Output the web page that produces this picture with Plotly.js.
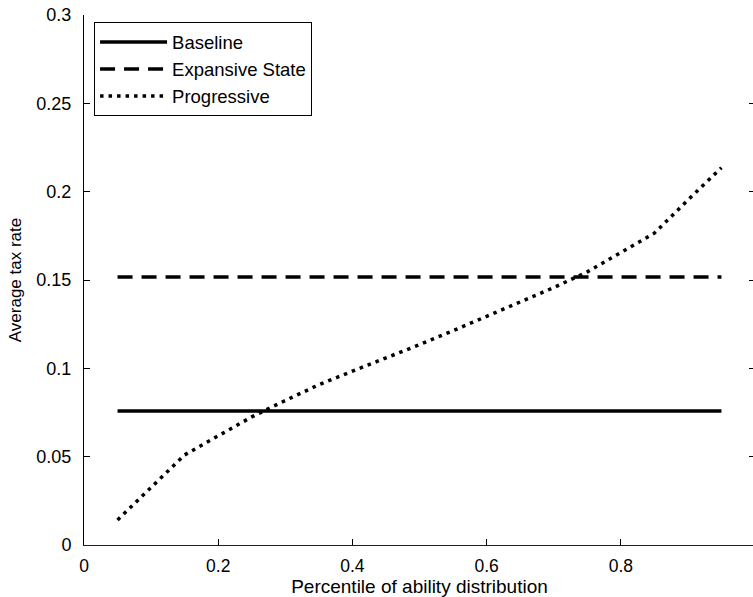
<!DOCTYPE html>
<html>
<head>
<meta charset="utf-8">
<script src="https://cdn.plot.ly/plotly-3.0.1.min.js"></script>
<style>
html, body { margin: 0; padding: 0; overflow: hidden; background: #fff; }
#chart { width: 756px; height: 597px; }
</style>
</head>
<body>
<div id="chart"></div>
<script>
// Data
const percentile = [0.05, 0.10, 0.15, 0.20, 0.25, 0.30, 0.35, 0.40, 0.45, 0.50,
                    0.55, 0.60, 0.65, 0.70, 0.75, 0.80, 0.85, 0.90, 0.95];
const progressive = [0.0142, 0.0325, 0.0510, 0.0618, 0.0725, 0.0818, 0.0907, 0.0984, 0.1058, 0.1134,
                     0.1213, 0.1293, 0.1375, 0.1457, 0.1546, 0.1653, 0.1765, 0.1953, 0.2136];
const baselineX = [0.05, 0.95];
const baselineY = [0.0758, 0.0758];
const expansiveX = [0.05, 0.95];
const expansiveY = [0.1517, 0.1517];
const seriesNames = ["Baseline", "Expansive State", "Progressive"];
const xTicks = [0, 0.2, 0.4, 0.6, 0.8, 1];
const yTicks = [0, 0.05, 0.1, 0.15, 0.2, 0.25, 0.3];

const FONT = "Liberation Sans, Arial, Helvetica, sans-serif";

const traces = [
  { x: baselineX, y: baselineY, name: seriesNames[0], mode: "lines",
    line: { color: "#000", width: 3.5, dash: "solid" } },
  { x: expansiveX, y: expansiveY, name: seriesNames[1], mode: "lines",
    line: { color: "#000", width: 3.5, dash: "15px,9px" } },
  { x: percentile, y: progressive, name: seriesNames[2], mode: "lines",
    line: { color: "#000", width: 3.5, dash: "3.5px,5px" } }
];

const layout = {
  width: 756, height: 597,
  margin: { l: 84, r: 1, t: 15, b: 52 },
  paper_bgcolor: "#fff", plot_bgcolor: "#fff",
  font: { family: FONT, size: 17, color: "#000" },
  showlegend: true,
  legend: {
    x: 0.015, y: 0.986, xanchor: "left", yanchor: "top",
    bgcolor: "#fff", bordercolor: "#000", borderwidth: 1,
    font: { family: FONT, size: 18.5, color: "#000" },
    itemwidth: 67, tracegroupgap: 0, entrywidth: 232
  },
  xaxis: {
    range: [0, 1], tickvals: xTicks, ticktext: xTicks.map(String),
    showgrid: false, zeroline: false,
    showline: true, linecolor: "#1010a0", linewidth: 1,
    ticks: "inside", ticklen: 6, tickcolor: "#000",
    ticklabelstandoff: 5,
    tickfont: { family: FONT, size: 17.5, color: "#000" },
    title: { text: "Percentile of ability distribution", standoff: 2,
             font: { family: FONT, size: 19, color: "#000" } }
  },
  xaxis2: {
    overlaying: "x", matches: "x", side: "top", range: [0, 1],
    tickvals: xTicks, showticklabels: false,
    showgrid: false, zeroline: false,
    showline: true, linecolor: "#000", linewidth: 1,
    ticks: "inside", ticklen: 6, tickcolor: "#000"
  },
  yaxis: {
    range: [0, 0.3], tickvals: yTicks, ticktext: yTicks.map(String),
    showgrid: false, zeroline: false,
    showline: true, linecolor: "#000", linewidth: 1, mirror: "ticks",
    ticks: "inside", ticklen: 6, tickcolor: "#000",
    ticklabelstandoff: 8,
    tickfont: { family: FONT, size: 18, color: "#000" },
    title: { text: "Average tax rate", standoff: 10,
             font: { family: FONT, size: 17, color: "#000" } }
  }
};

Plotly.newPlot("chart", traces, layout, { staticPlot: true, displayModeBar: false });
</script>
</body>
</html>
